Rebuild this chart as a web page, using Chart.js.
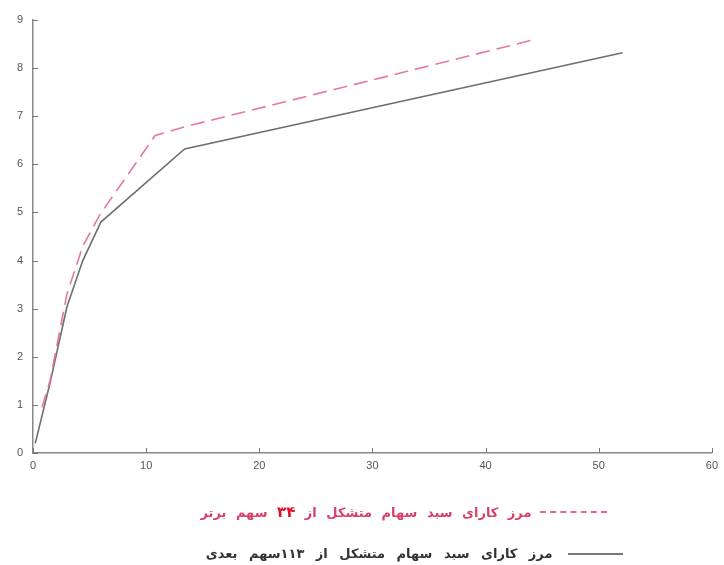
<!DOCTYPE html>
<html>
<head>
<meta charset="utf-8">
<script src="https://cdn.jsdelivr.net/npm/chart.js@4"></script>
<style>
    body { margin: 0; background: #fff; }
    #wrap { position: relative; width: 724px; height: 565px; }
    .leg { position: absolute; direction: rtl; font-family: "DejaVu Sans", sans-serif; font-size: 13px; font-weight: bold; white-space: nowrap; }
    .leg span.text { display: inline-block; vertical-align: middle; }
    .leg span.line { display: inline-block; vertical-align: middle; }
</style>
</head>
<body>
<div id="wrap">
    <canvas id="chart" width="724" height="565"></canvas>
    <div class="leg" id="legRed" style="right:117px; top:503px; color:#d8406a;">
        <span class="line" style="width:67px; border-top:2px dashed #e26b88; margin-left:4px;"></span>
        <span class="text" style="word-spacing:5px;">مرز کارای سبد سهام متشکل از <b style="color:#e0102e;font-size:15px;">۳۴</b> سهم برتر</span>
    </div>
    <div class="leg" id="legGray" style="right:101px; top:545px; color:#333;">
        <span class="line" style="width:55px; border-top:2px solid #777; margin-left:11px;"></span>
        <span class="text" style="word-spacing:7px;">مرز کارای سبد سهام متشکل از ۱۱۳سهم بعدی</span>
    </div>
</div>
<script>
// values
const topX = [0.8, 1.5, 3.0, 4.4, 5.9, 10.8, 13.4, 44.1];
const topY = [0.95, 1.5, 3.3, 4.3, 4.95, 6.6, 6.78, 8.58];
const nextX = [0.2, 1.5, 3.0, 4.4, 6.0, 13.4, 52.1];
const nextY = [0.2, 1.45, 3.04, 4.0, 4.8, 6.32, 8.32];

const xTicks = [0, 10, 20, 30, 40, 50, 60];
const yTicks = [0, 1, 2, 3, 4, 5, 6, 7, 8, 9];

function toPoints(xs, ys) {
    return xs.map((x, i) => ({ x: x, y: ys[i] }));
}

// small tick marks drawn on the inside of the axes
const innerTicks = {
    id: 'innerTicks',
    afterDraw(chart) {
        const ctx = chart.ctx;
        const xs = chart.scales.x, ys = chart.scales.y;
        ctx.save();
        ctx.strokeStyle = '#777';
        ctx.lineWidth = 1;
        ctx.beginPath();
        xTicks.forEach(v => {
            const px = Math.round(xs.getPixelForValue(v)) + 0.5;
            ctx.moveTo(px, ys.bottom);
            ctx.lineTo(px, ys.bottom - 5);
        });
        yTicks.forEach(v => {
            const py = Math.round(ys.getPixelForValue(v)) + 0.5;
            ctx.moveTo(xs.left, py);
            ctx.lineTo(xs.left + 5, py);
        });
        ctx.stroke();
        ctx.restore();
    }
};

new Chart(document.getElementById('chart'), {
    type: 'line',
    data: {
        datasets: [
            {
                label: 'top',
                data: toPoints(topX, topY),
                borderColor: '#e77a93',
                borderWidth: 1.6,
                borderDash: [14, 7],
                pointRadius: 0,
                fill: false
            },
            {
                label: 'next',
                data: toPoints(nextX, nextY),
                borderColor: '#6f6f6f',
                borderWidth: 1.6,
                pointRadius: 0,
                fill: false
            }
        ]
    },
    options: {
        responsive: false,
        animation: false,
        layout: { padding: { top: 20, right: 11, bottom: 87, left: 0 } },
        plugins: {
            legend: { display: false },
            tooltip: { enabled: false }
        },
        scales: {
            x: {
                type: 'linear',
                min: 0,
                max: 60,
                afterFit: s => { s.height = 25; },
                afterBuildTicks: s => { s.ticks = xTicks.map(v => ({ value: v })); },
                grid: { drawOnChartArea: false, drawTicks: false },
                border: { color: '#888', width: 1.5 },
                ticks: { color: '#555', padding: 6, font: { family: 'Liberation Sans', size: 11 } }
            },
            y: {
                min: 0,
                max: 9,
                afterFit: s => { s.width = 33; },
                afterBuildTicks: s => { s.ticks = yTicks.map(v => ({ value: v })); },
                grid: { drawOnChartArea: false, drawTicks: false },
                border: { color: '#888', width: 1.5 },
                ticks: { color: '#555', padding: 10, font: { family: 'Liberation Sans', size: 11 } }
            }
        }
    },
    plugins: [innerTicks]
});
</script>
</body>
</html>
